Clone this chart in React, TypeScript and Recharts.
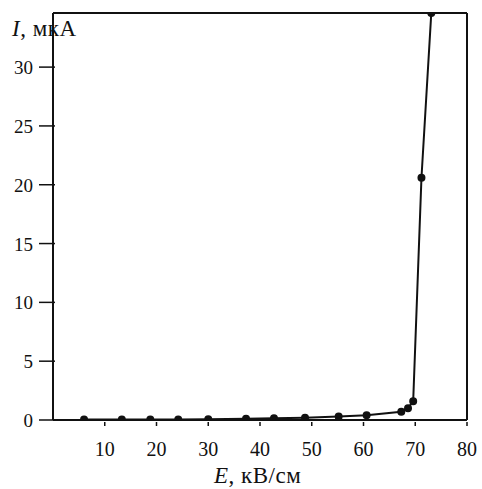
import React from "react";
import { LineChart, Line, XAxis, YAxis, ReferenceLine } from "recharts";

const fieldE = [6, 13.3, 18.8, 24.2, 30, 37.3, 42.7, 48.7, 55.2, 60.6, 67.3, 68.6, 69.6, 71.2, 73.1];
const currentI = [0.05, 0.05, 0.05, 0.05, 0.07, 0.1, 0.15, 0.2, 0.3, 0.4, 0.7, 1.0, 1.6, 20.6, 34.6];
const xTicks = [10, 20, 30, 40, 50, 60, 70, 80];
const yTicks = [0, 5, 10, 15, 20, 25, 30];

const data = fieldE.map((e, i) => ({ e, i: currentI[i] }));

const FONT = "'Liberation Serif', 'DejaVu Serif', serif";

const YTick = (props: any) => {
  const { x, y, payload } = props;
  return (
    <g>
      <text x={x - 12} y={y} dy={7} textAnchor="end" fontFamily={FONT} fontSize={19} fill="#111">
        {payload.value}
      </text>
      <line x1={x - 6} x2={x + 10} y1={y} y2={y} stroke="#111" strokeWidth={1.5} />
    </g>
  );
};

const XTick = (props: any) => {
  const { x, y, payload } = props;
  return (
    <g>
      <line x1={x} x2={x} y1={y - 6} y2={y - 2} stroke="#111" strokeWidth={1.5} />
      <text x={x} y={y + 28} textAnchor="middle" fontFamily={FONT} fontSize={20} fill="#111">
        {payload.value}
      </text>
    </g>
  );
};

export default function App() {
  return (
    <div style={{ position: "absolute", left: 0, top: 0, width: 482, height: 489, background: "#fff" }}>
      <LineChart width={482} height={489} data={data} margin={{ top: 13, right: 15, bottom: 0, left: 0 }}>
        <XAxis
          type="number"
          dataKey="e"
          domain={[0, 80]}
          ticks={xTicks}
          tickLine={false}
          tick={<XTick />}
          axisLine={{ stroke: "#111", strokeWidth: 2 }}
          height={69}
          tickSize={6}
          tickMargin={2}
        />
        <YAxis
          type="number"
          dataKey="i"
          domain={[0, 34.6]}
          ticks={yTicks}
          tickLine={false}
          tick={<YTick />}
          axisLine={{ stroke: "#111", strokeWidth: 2 }}
          width={53}
          tickSize={6}
          tickMargin={2}
          allowDataOverflow
        />
        <ReferenceLine y={34.6} stroke="#111" strokeWidth={2} />
        <ReferenceLine x={80} stroke="#111" strokeWidth={2} />
        <Line
          type="linear"
          dataKey="i"
          stroke="#111"
          strokeWidth={2}
          dot={{ r: 3, fill: "#111", stroke: "#111" }}
          isAnimationActive={false}
        />
      </LineChart>
      <div
        style={{
          position: "absolute",
          left: 12,
          top: 16,
          fontFamily: FONT,
          fontSize: 23,
          letterSpacing: 0.5,
          color: "#111",
          whiteSpace: "nowrap",
        }}
      >
        <i>I</i>, мкА
      </div>
      <div
        style={{
          position: "absolute",
          left: 214,
          top: 463,
          fontFamily: FONT,
          fontSize: 23,
          letterSpacing: 0.5,
          color: "#111",
          whiteSpace: "nowrap",
        }}
      >
        <i>E</i>, кВ/см
      </div>
    </div>
  );
}
